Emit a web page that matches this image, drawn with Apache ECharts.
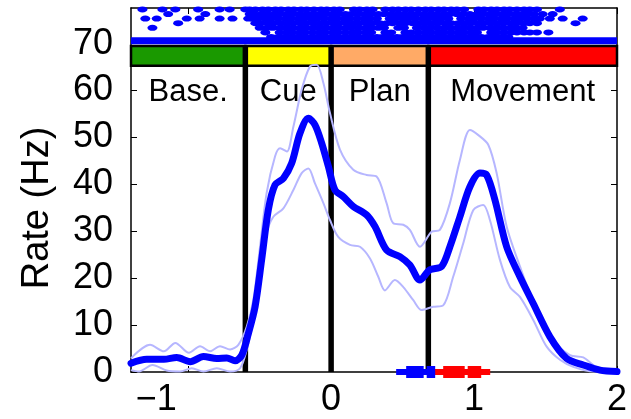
<!DOCTYPE html>
<html>
<head>
<meta charset="utf-8">
<script src="https://cdn.jsdelivr.net/npm/echarts@6/dist/echarts.min.js"></script>
<style>html,body{margin:0;padding:0;background:#fff;}#chart{width:631px;height:419px;}</style>
</head>
<body>
<div id="chart"></div>
<script>
// ---------- DATA ----------
const xTicks = [-1, 0, 1, 2];
const yTicks = [0, 10, 20, 30, 40, 50, 60, 70];

const epochNames = ['Base.', 'Cue', 'Plan', 'Movement'];
const epochStart = [-1.4, -0.6, 0, 0.68];
const epochEnd = [-0.6, 0, 0.68, 2];
const eventTimes = [-0.6, 0, 0.68];

const meanT = [-1.40,-1.29,-1.17,-1.08,-0.985,-0.893,-0.80,-0.73,-0.672,-0.625,-0.579,-0.532,-0.486,-0.439,-0.392,-0.334,-0.276,-0.218,-0.159,-0.113,-0.066,-0.019,0.027,0.085,0.155,0.248,0.307,0.388,0.481,0.551,0.621,0.691,0.773,0.831,0.901,0.971,1.041,1.088,1.146,1.228,1.321,1.414,1.531,1.647,1.764,1.88,2.0];
const meanRate = [1.85,2.7,2.7,3.1,2.2,3.3,2.9,3.0,2.4,3.6,8.2,13.9,23.9,34.6,39.9,41.3,44.5,50.9,54.1,52.7,48.8,43.8,38.8,37.4,35.3,33.5,31.0,26.0,24.6,22.8,19.6,21.8,22.5,26.7,33.1,39.5,42.4,42.0,36.7,26.7,20.3,14.6,7.5,2.9,1.5,0.4,0.1];

const upperT = [-1.40,-1.267,-1.17,-1.09,-0.995,-0.917,-0.847,-0.777,-0.707,-0.649,-0.590,-0.544,-0.497,-0.451,-0.392,-0.357,-0.31,-0.264,-0.206,-0.148,-0.101,-0.054,-0.008,0.062,0.155,0.248,0.318,0.388,0.435,0.505,0.551,0.621,0.703,0.761,0.831,0.901,0.971,1.030,1.1,1.158,1.228,1.321,1.438,1.554,1.671,1.764,1.857,2.0];
const upperRate = [2.9,5.8,4.4,6.2,4.1,5.5,4.4,5.5,4.8,5.8,9.7,15.4,26.8,38.2,46.0,47.7,47.0,52.3,60.2,65.1,65.5,61.6,55.2,47.4,43.1,42.0,41.7,36.0,31.7,31.4,30.3,26.7,29.9,30.3,36.0,45.2,51.6,50.5,48.4,42.4,31.0,22.5,13.2,6.8,3.6,3.1,1.1,0.6];

const lowerT = [-1.40,-1.345,-1.25,-1.15,-1.057,-0.975,-0.893,-0.80,-0.707,-0.637,-0.59,-0.544,-0.497,-0.451,-0.404,-0.334,-0.264,-0.206,-0.159,-0.113,-0.054,-0.008,0.05,0.132,0.202,0.272,0.33,0.376,0.446,0.505,0.575,0.633,0.714,0.784,0.854,0.924,0.994,1.064,1.111,1.181,1.251,1.321,1.414,1.508,1.601,1.694,1.834,2.0];
const lowerRate = [0.4,0.1,1.5,0.3,0.1,0.8,0.1,0.8,0.1,0.8,4.8,11.1,20.4,29.6,33.1,34.9,38.8,42.4,43.4,40.2,36.0,32.4,28.8,27.1,26.7,24.2,20.3,17.4,19.6,18.1,15.3,13.2,13.9,14.2,20.3,27.4,34.5,35.6,32.4,23.9,18.1,16.0,11.1,5.4,2.6,1.1,0.1,0.1];

// reaction / movement time distributions: [min, q1, median, q3, max]
const blueStats = [0.455, 0.525, 0.658, 0.728, 0.798];
const redStats = [0.728, 0.784, 0.945, 1.05, 1.113];

// raster: spike times per trial row (top row first)
const rasterRows = [
  [-1.32,-1.18,-1.09,-0.93,-0.78,-0.71,-0.60,-0.57,-0.53,-0.48,-0.44,-0.39,-0.35,-0.30,-0.26,-0.21,-0.17,-0.12,-0.07,-0.03,0.02,0.06,0.16,0.20,0.25,0.29,0.38,0.43,0.47,0.52,0.56,0.61,0.66,0.70,0.75,0.79,0.84,0.88,0.93,1.03,1.07,1.12,1.16,1.21,1.25,1.30,1.35,1.39,1.44,1.60],
  [-1.14,-0.88,-0.57,-0.54,-0.49,-0.45,-0.40,-0.36,-0.31,-0.27,-0.22,-0.17,-0.13,-0.08,-0.04,0.01,0.05,0.10,0.14,0.19,0.24,0.28,0.33,0.37,0.42,0.47,0.51,0.56,0.60,0.65,0.70,0.74,0.79,0.83,0.88,0.92,0.97,1.02,1.06,1.11,1.15,1.20,1.24,1.29,1.34,1.38,1.42,1.48,1.55],
  [-1.30,-1.22,-1.01,-0.92,-0.78,-0.69,-0.58,-0.55,-0.51,-0.46,-0.42,-0.37,-0.32,-0.28,-0.23,-0.19,-0.14,-0.10,-0.05,0.00,0.04,0.09,0.13,0.18,0.23,0.27,0.32,0.41,0.45,0.50,0.54,0.59,0.64,0.68,0.73,0.77,0.82,0.91,0.96,1.00,1.05,1.10,1.14,1.19,1.23,1.28,1.32,1.37,1.42,1.46,1.53,1.62,1.76],
  [-1.07,-0.53,-0.49,-0.44,-0.40,-0.35,-0.30,-0.26,-0.21,-0.17,-0.12,-0.07,-0.03,0.02,0.06,0.11,0.16,0.20,0.25,0.29,0.34,0.39,0.43,0.48,0.52,0.57,0.62,0.66,0.71,0.75,0.80,0.84,0.89,0.94,0.98,1.03,1.07,1.12,1.17,1.21,1.26,1.30,1.35,1.39,1.44,1.71],
  [-1.25,-0.50,-0.45,-0.41,-0.36,-0.32,-0.27,-0.22,-0.18,-0.13,-0.09,-0.04,0.01,0.05,0.10,0.14,0.19,0.24,0.28,0.33,0.37,0.47,0.51,0.60,0.65,0.69,0.74,0.79,0.83,0.88,0.92,0.97,1.02,1.06,1.11,1.15,1.20,1.25,1.29,1.34],
  [-0.46,-0.36,-0.31,-0.27,-0.22,-0.18,-0.13,-0.08,-0.04,0.01,0.05,0.10,0.15,0.19,0.24,0.28,0.38,0.42,0.52,0.56,0.61,0.66,0.70,0.75,0.79,0.84,0.89,0.93,0.98,1.02,1.12,1.16,1.21,1.26,1.30,1.35,1.39,1.44,1.52],
  [-0.42,-0.37,-0.33,-0.28,-0.24,-0.19,-0.14,-0.10,-0.05,0.00,0.04,0.09,0.13,0.18,0.23,0.27,0.32,0.36,0.41,0.46,0.50,0.55,0.59,0.64,0.69,0.73,0.78,0.82,0.87,0.92,0.96,1.01,1.05,1.10,1.15,1.19,1.24]
];
const rasterBandSpan = [-1.4, 2]; // remaining trials merged into a solid band

// ---------- STYLE / LAYOUT ----------
const FONT = '"Liberation Sans", Arial, Helvetica, sans-serif';
const epochColors = ['#1a9900', '#ffff00', '#ffaa66', '#ff0000'];
const BLUE = '#0000ff';
const LIGHT = '#b6b6ff';
const barBottom = 65.3, barTop = 69.5, labelY = 59.6;
const rowTop = 77.3, rowStep = 0.98, bandY = 70.6;

const rasterData = [];
rasterRows.forEach((row, i) => row.forEach(t => rasterData.push([t, rowTop - i * rowStep])));

const zip = (a, b) => a.map((v, i) => [v, b[i]]);

const chart = echarts.init(document.getElementById('chart'), null, {renderer: 'canvas'});
const axisLineStyle = {color: '#000', width: 1.5};

const option = {
  animation: false,
  backgroundColor: '#fff',
  grid: {left: 131, right: 14, top: 8, bottom: 47, containLabel: false},
  xAxis: [
    {type: 'value', min: -1.4, max: 2, position: 'bottom',
     axisLine: {onZero: false, lineStyle: axisLineStyle},
     axisTick: {inside: true, length: 6, customValues: xTicks, lineStyle: {color: '#000', width: 1}},
     axisLabel: {customValues: xTicks, margin: 10, color: '#000', fontSize: 36, fontFamily: FONT,
       formatter: v => v < 0 ? '{neg|\u2212' + Math.abs(v) + '}' : String(v),
       rich: {neg: {fontSize: 36, fontFamily: FONT, color: '#000', padding: [0, 64, 0, 0]}}},
     splitLine: {show: false}},
    {type: 'value', min: -1.4, max: 2, position: 'top',
     axisLine: {onZero: false, lineStyle: axisLineStyle},
     axisTick: {inside: true, length: 6, customValues: xTicks, lineStyle: {color: '#000', width: 1}},
     axisLabel: {show: false}, splitLine: {show: false}}
  ],
  yAxis: [
    {type: 'value', min: 0, max: 77.6, position: 'left',
     name: 'Rate (Hz)', nameLocation: 'middle', nameGap: 74,
     nameTextStyle: {fontSize: 38, color: '#000', fontFamily: FONT, padding: [0, 36, 0, 0]},
     axisLine: {onZero: false, lineStyle: axisLineStyle},
     axisTick: {inside: true, length: 6, customValues: yTicks, lineStyle: {color: '#000', width: 1}},
     axisLabel: {customValues: yTicks, margin: 18, color: '#000', fontSize: 36, fontFamily: FONT},
     splitLine: {show: false}},
    {type: 'value', min: 0, max: 77.6, position: 'right',
     axisLine: {onZero: false, lineStyle: axisLineStyle},
     axisTick: {inside: true, length: 6, customValues: yTicks, lineStyle: {color: '#000', width: 1}},
     axisLabel: {show: false}, splitLine: {show: false}}
  ],
  series: [
    {type: 'custom', name: 'epochs', z: 1,
     data: epochStart.map((s, i) => [s, epochEnd[i], i]),
     encode: {x: [0, 1]},
     renderItem: (params, api) => {
       const i = api.value(2);
       const p0 = api.coord([api.value(0), barTop]);
       const p1 = api.coord([api.value(1), barBottom]);
       const mid = api.coord([(api.value(0) + api.value(1)) / 2, labelY]);
       return {type: 'group', children: [
         {type: 'rect', shape: {x: p0[0], y: p0[1], width: p1[0] - p0[0], height: p1[1] - p0[1]},
          style: {fill: epochColors[i], stroke: '#000', lineWidth: 2.5}},
         {type: 'text', x: mid[0], y: mid[1],
          style: {text: epochNames[i], fill: '#000', fontSize: 31, fontFamily: FONT, align: 'center', verticalAlign: 'middle'}}
       ]};
     }},
    {type: 'custom', name: 'events', z: 2,
     data: eventTimes.map(t => [t]),
     encode: {x: 0},
     renderItem: (params, api) => {
       const p0 = api.coord([api.value(0), 0]);
       const p1 = api.coord([api.value(0), barTop]);
       return {type: 'line', shape: {x1: p0[0], y1: p0[1], x2: p1[0], y2: p1[1]},
               style: {stroke: '#000', lineWidth: 5.5}};
     }},
    {type: 'line', name: 'upper', z: 3, data: zip(upperT, upperRate), showSymbol: false, smooth: 0.3,
     lineStyle: {color: LIGHT, width: 2}},
    {type: 'line', name: 'lower', z: 3, data: zip(lowerT, lowerRate), showSymbol: false, smooth: 0.3,
     lineStyle: {color: LIGHT, width: 2}},
    {type: 'line', name: 'mean', z: 4, data: zip(meanT, meanRate), showSymbol: false, smooth: 0.3,
     lineStyle: {color: BLUE, width: 7, cap: 'round', join: 'round'}},
    {type: 'line', name: 'band', z: 4, data: rasterBandSpan.map(t => [t, bandY]), showSymbol: false,
     lineStyle: {color: BLUE, width: 7}},
    {type: 'scatter', name: 'raster', z: 5, data: rasterData, symbol: 'circle', symbolSize: [10, 6],
     itemStyle: {color: BLUE, opacity: 1}},
    {type: 'custom', name: 'rt', z: 6, clip: false,
     data: [[...blueStats, 0], [...redStats, 1]],
     renderItem: (params, api) => {
       const c = api.value(5) === 0 ? BLUE : '#ff0000';
       const y = api.coord([0, 0])[1];
       const x = k => api.coord([api.value(k), 0])[0];
       const xmin = x(0), q1 = x(1), med = x(2), q3 = x(3), xmax = x(4);
       return {type: 'group', children: [
         {type: 'rect', shape: {x: xmin, y: y - 3, width: xmax - xmin, height: 6}, style: {fill: c}},
         {type: 'rect', shape: {x: q1, y: y - 6, width: med - 1.5 - q1, height: 12}, style: {fill: c}},
         {type: 'rect', shape: {x: med + 1.5, y: y - 6, width: q3 - med - 1.5, height: 12}, style: {fill: c}}
       ]};
     }}
  ]
};
chart.setOption(option);
</script>
</body>
</html>
